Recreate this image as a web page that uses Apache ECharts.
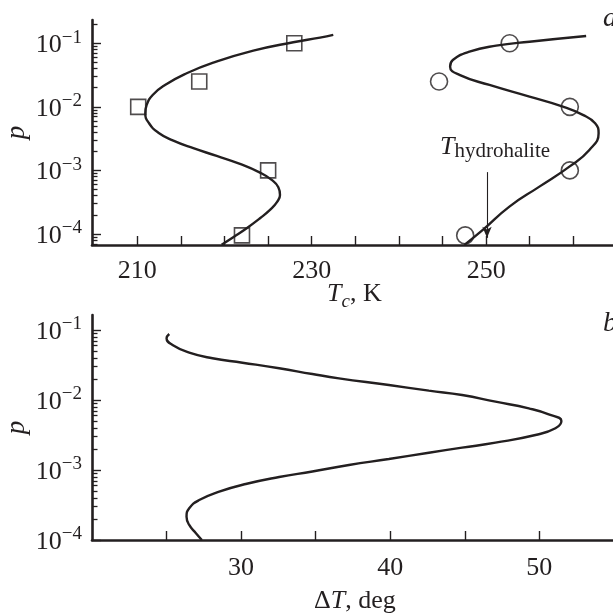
<!DOCTYPE html>
<html>
<head>
<meta charset="utf-8">
<script src="https://cdn.jsdelivr.net/npm/echarts@6/dist/echarts.min.js"></script>
<style>
  html, body { margin: 0; padding: 0; background: #fff; }
  #chart { width: 613px; height: 613px; }
</style>
</head>
<body>
<div id="chart"></div>
<script>
// panel a: squares
const sqT = [228.0, 217.1, 210.1, 225.0, 222.0];
const sqP = [0.1, 0.025, 0.01, 0.001, 0.000095];
// panel a: circles
const ciT = [252.7, 244.6, 259.6, 259.6, 247.6];
const ciP = [0.1, 0.025, 0.01, 0.001, 0.000095];

// panel a: fitted curves
const fit1T = [219.67, 221.0, 222.54, 224.07, 225.21, 226.05, 226.36, 226.17, 225.41, 224.07, 221.77,
  219.1, 216.42, 214.13, 212.41, 211.34, 210.91, 211.07, 211.76, 213.17, 215.66, 218.71, 223.30,
  227.88, 230.95, 232.47];
const fit1P = [6.75e-5, 8.91e-5, 1.233e-4, 1.770e-4, 2.393e-4, 3.228e-4, 4.121e-4, 5.445e-4, 7.096e-4,
  9.226e-4, 1.265e-3, 1.690e-3, 2.234e-3, 2.944e-3, 3.926e-3, 5.521e-3, 7.925e-3, 1.072e-2, 1.538e-2,
  2.208e-2, 3.373e-2, 4.955e-2, 7.656e-2, 0.1038, 0.1225, 0.1352];
const fit2T = [247.51, 249.62, 252.67, 256.11, 259.55, 261.84, 262.9, 262.5, 261.09, 258.80, 254.97,
  250.38, 246.94, 245.87, 246.18, 248.09, 251.15, 254.97, 261.47];
const fit2P = [6.75e-5, 1.159e-4, 2.698e-4, 5.559e-4, 1.148e-3, 2.099e-3, 3.846e-3, 5.521e-3, 7.464e-3,
  1.007e-2, 1.445e-2, 2.208e-2, 3.177e-2, 4.285e-2, 5.458e-2, 7.379e-2, 9.162e-2, 0.1059, 0.1303];

// panel b: delta T curve
const dT = [25.18, 25.0, 25.40, 26.52, 28.08, 30.09, 32.55, 34.78, 36.56, 39.91, 42.59, 44.82,
  47.06, 49.29, 50.63, 51.48, 51.08, 49.74, 47.06, 44.82, 42.59, 39.91, 37.23, 34.78, 32.55, 30.31,
  28.53, 27.19, 26.52, 26.34, 26.52, 26.97, 27.37];
const dP = [0.0877, 0.0760, 0.0611, 0.0474, 0.0394, 0.0341, 0.0284, 0.0235, 0.0204, 0.01637,
  0.01358, 0.01178, 0.00946, 0.00760, 0.00625, 0.00501, 0.003945, 0.003162, 0.002455, 0.002084,
  0.001766, 0.001436, 0.001178, 0.000953, 0.000794, 0.000631, 0.000490, 0.000372, 0.000284,
  0.000215, 0.000164, 0.000125, 0.0001];

// ticks and labels
const topXTicks = [210, 215, 220, 225, 230, 235, 240, 245, 250, 255, 260];
const topXLabels = [210, 230, 250];
const botXTicks = [25, 30, 35, 40, 45, 50];
const botXLabels = [30, 40, 50];
const pMajor = [1e-4, 1e-3, 1e-2, 1e-1];
const hydrohaliteT = 250.1;

const ink = '#231f20';
const serif = '"Liberation Serif", "DejaVu Serif", serif';

function minorTicks(lo, hi) {
  const out = [];
  for (let e = -5; e <= -1; e++) {
    for (let m = 2; m <= 9; m++) {
      const v = m * Math.pow(10, e);
      if (v > lo && v < hi) out.push(v);
    }
  }
  return out;
}

function pairs(xs, ys) {
  return xs.map((x, i) => [x, ys[i]]);
}

const topY = { min: 6.71e-5, max: 0.2323 };
const botY = { min: 1e-4, max: 0.1637 };
const topX = { min: 204.8, max: 264.55 };
const botX = { min: 20, max: 54.94 };

function xAxisMain(grid, ext, ticks, labels, margin) {
  return {
    gridIndex: grid, type: 'value', min: ext.min, max: ext.max,
    axisLine: { lineStyle: { color: ink, width: 2.6 } },
    axisTick: { inside: true, length: 9, customValues: ticks, lineStyle: { color: ink, width: 1.4 } },
    axisLabel: { customValues: labels, margin: margin, color: ink, fontFamily: serif, fontSize: 26 },
    splitLine: { show: false }
  };
}

function yAxisMain(grid, ext) {
  return {
    gridIndex: grid, type: 'log', logBase: 10, min: ext.min, max: ext.max,
    axisLine: { lineStyle: { color: ink, width: 2.6 } },
    axisTick: { inside: true, length: 9, customValues: pMajor, lineStyle: { color: ink, width: 1.4 } },
    axisLabel: {
      customValues: pMajor, margin: 10, color: ink,
      formatter: function (v) {
        const e = Math.round(Math.log10(v));
        return '{b|10}{s|\u2212' + (-e) + '}';
      },
      rich: {
        b: { fontFamily: serif, fontSize: 26, lineHeight: 30, verticalAlign: 'bottom', color: ink },
        s: { fontFamily: serif, fontSize: 19, lineHeight: 18, verticalAlign: 'top', color: ink }
      }
    },
    splitLine: { show: false },
    name: 'p', nameLocation: 'middle', nameGap: 62, nameRotate: 90, nameMoveOverlap: false,
    nameTextStyle: { fontFamily: serif, fontStyle: 'italic', fontSize: 27, color: ink }
  };
}

function yAxisMinor(grid, ext) {
  return {
    gridIndex: grid, type: 'log', logBase: 10, min: ext.min, max: ext.max,
    axisLine: { show: false },
    axisTick: { inside: true, length: 5.5, customValues: minorTicks(ext.min, ext.max), lineStyle: { color: ink, width: 1.3 } },
    axisLabel: { show: false },
    splitLine: { show: false }
  };
}

function gridAt(top) {
  return { left: 92, top: top, width: 521, height: 225, containLabel: false, outerBoundsMode: 'none' };
}

const lineStyle = { color: ink, width: 2.4 };
const markerStyle = { color: 'rgba(0,0,0,0)', borderColor: ink, borderWidth: 1.6 };

const option = {
  animation: false,
  backgroundColor: '#fff',
  grid: [gridAt(20), gridAt(315), gridAt(20), gridAt(315)],
  xAxis: [
    xAxisMain(0, topX, topXTicks, topXLabels, 13),
    xAxisMain(1, botX, botXTicks, botXLabels, 15),
    { gridIndex: 2, type: 'value', min: topX.min, max: topX.max, show: false },
    { gridIndex: 3, type: 'value', min: botX.min, max: botX.max, show: false }
  ],
  yAxis: [
    yAxisMain(0, topY),
    yAxisMain(1, botY),
    yAxisMinor(2, topY),
    yAxisMinor(3, botY)
  ],
  series: [
    {
      type: 'line', xAxisIndex: 0, yAxisIndex: 0, data: pairs(fit1T, fit1P),
      showSymbol: false, smooth: 0.5, lineStyle: lineStyle, z: 2
    },
    {
      type: 'line', xAxisIndex: 0, yAxisIndex: 0, data: pairs(fit2T, fit2P),
      showSymbol: false, smooth: 0.5, lineStyle: lineStyle, z: 2,
      markLine: {
        silent: true, symbol: ['none', 'arrow'], symbolSize: [7, 11],
        lineStyle: { color: ink, width: 1.1, type: 'solid' },
        label: { show: false },
        data: [[{ coord: [hydrohaliteT, 9.4e-4] }, { coord: [hydrohaliteT, 8.7e-5] }]]
      }
    },
    {
      type: 'scatter', xAxisIndex: 0, yAxisIndex: 0, data: pairs(sqT, sqP),
      symbol: 'rect', symbolSize: 15, itemStyle: markerStyle, z: 3
    },
    {
      type: 'scatter', xAxisIndex: 0, yAxisIndex: 0, data: pairs(ciT, ciP),
      symbol: 'circle', symbolSize: 17, itemStyle: markerStyle, z: 3
    },
    {
      type: 'line', xAxisIndex: 1, yAxisIndex: 1, data: pairs(dT, dP),
      showSymbol: false, smooth: 0.5, lineStyle: lineStyle
    }
  ],
  graphic: [
    {
      type: 'text', left: 327, top: 281,
      style: {
        text: '{i|T}{sub|c}{n|, K}',
        rich: {
          i: { fontFamily: serif, fontStyle: 'italic', fontSize: 26, lineHeight: 30, verticalAlign: 'top', fill: ink },
          sub: { fontFamily: serif, fontStyle: 'italic', fontSize: 19, lineHeight: 18, verticalAlign: 'bottom', fill: ink },
          n: { fontFamily: serif, fontSize: 26, lineHeight: 30, verticalAlign: 'top', fill: ink }
        }
      }
    },
    {
      type: 'text', left: 314, top: 588,
      style: {
        text: '{n|\u0394}{i|T}{n|, deg}',
        rich: {
          i: { fontFamily: serif, fontStyle: 'italic', fontSize: 26, lineHeight: 26, fill: ink },
          n: { fontFamily: serif, fontSize: 26, lineHeight: 26, fill: ink }
        }
      }
    },
    {
      type: 'text', left: 440, top: 134,
      style: {
        text: '{i|T}{sub|hydrohalite}',
        rich: {
          i: { fontFamily: serif, fontStyle: 'italic', fontSize: 26, lineHeight: 28, verticalAlign: 'top', fill: ink },
          sub: { fontFamily: serif, fontSize: 21, lineHeight: 20, verticalAlign: 'bottom', fill: ink }
        }
      }
    },
    {
      type: 'text', left: 603, top: 5,
      style: { text: 'a', font: 'italic 28px ' + serif, fill: ink }
    },
    {
      type: 'text', left: 603, top: 310,
      style: { text: 'b', font: 'italic 28px ' + serif, fill: ink }
    }
  ]
};

const chart = echarts.init(document.getElementById('chart'));
chart.setOption(option);
</script>
</body>
</html>
